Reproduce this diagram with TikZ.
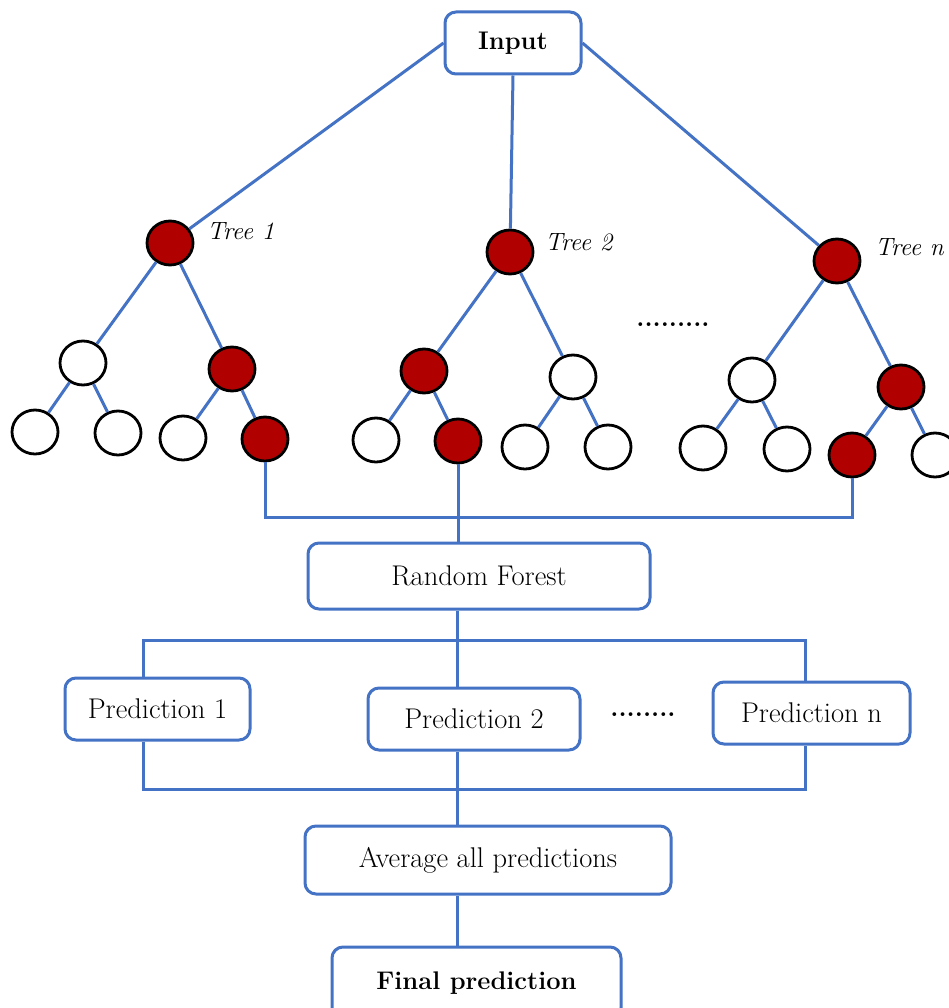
\documentclass[tikz,border=0pt]{standalone}
\usepackage{fontspec}
\setmainfont{Latin Modern Roman}
\usetikzlibrary{shapes.geometric}
\definecolor{lblue}{RGB}{68,114,196}
\definecolor{dred}{RGB}{176,0,0}
\begin{document}
\begin{tikzpicture}[x=1pt,y=-1pt,
 conn/.style={draw=lblue,line width=3pt},
 box/.style={draw=lblue,line width=3pt,rounded corners=11pt,fill=white,inner sep=0pt,font=\fontsize{28.5}{32}\selectfont},
 boldbox/.style={box,font=\bfseries\fontsize{25.5}{30}\selectfont},
 nd/.style={ellipse,draw=black,line width=2.8pt,minimum width=46pt,minimum height=44pt,inner sep=0pt},
 rn/.style={nd,fill=dred},
 wn/.style={nd,fill=white},
 tl/.style={anchor=west,font=\itshape\fontsize{25}{30}\selectfont,inner sep=0pt},
 dots/.style={font=\bfseries\fontsize{26}{28}\selectfont,inner sep=0pt}]
\useasboundingbox (0,0) rectangle (949,1008);
\clip (0,0) rectangle (949,1008);

% boxes
\node[boldbox,minimum width=136pt,minimum height=62pt] (input) at (513,43) {Input};
\node[box,minimum width=342pt,minimum height=66pt] (rf) at (479,576) {Random Forest};
\node[box,minimum width=185pt,minimum height=62pt] (p1) at (157.5,709) {Prediction 1};
\node[box,minimum width=212pt,minimum height=62pt] (p2) at (474,719) {Prediction 2};
\node[box,minimum width=197pt,minimum height=62pt] (pn) at (811.5,713) {Prediction n};
\node[box,minimum width=366pt,minimum height=68pt] (avg) at (488,860) {Average all predictions};
\node[boldbox,minimum width=289pt,minimum height=72pt] (fin) at (476.5,983) {Final prediction};

% tree 1
\node[rn] (t1r) at (170,243) {};
\node[wn] (t1a) at (83,363) {};
\node[rn] (t1b) at (232,369) {};
\node[wn] (t1a1) at (35,432) {};
\node[wn] (t1a2) at (118,433) {};
\node[wn] (t1b1) at (183,438) {};
\node[rn] (t1b2) at (265,439) {};
\node[tl] (lt1) at (207,231) {Tree 1};
% tree 2
\node[rn] (t2r) at (510,252) {};
\node[rn] (t2a) at (424,371) {};
\node[wn] (t2b) at (573,377) {};
\node[wn] (t2a1) at (376,440) {};
\node[rn] (t2a2) at (458,441) {};
\node[wn] (t2b1) at (525,447) {};
\node[wn] (t2b2) at (608,447) {};
\node[tl] (lt2) at (545,242) {Tree 2};
% tree n
\node[rn] (tnr) at (837,261) {};
\node[wn] (tna) at (752,380) {};
\node[rn] (tnb) at (901,387) {};
\node[wn] (tna1) at (703,448) {};
\node[wn] (tna2) at (787,449) {};
\node[rn] (tnb1) at (852,455) {};
\node[wn] (tnb2) at (935,455) {};
\node[tl] (ltn) at (875,247) {Tree n};

\node[dots] (d1) at (673,325) {.........};
\node[dots] (d2) at (643,715) {........};

% connectors: input to trees
\draw[conn] (input.west) -- (t1r);
\draw[conn] (input.south) -- (t2r);
\draw[conn] (input.east) -- (tnr);
% tree edges
\foreach \p/\c in {t1r/t1a,t1r/t1b,t1a/t1a1,t1a/t1a2,t1b/t1b1,t1b/t1b2,
                   t2r/t2a,t2r/t2b,t2a/t2a1,t2a/t2a2,t2b/t2b1,t2b/t2b2,
                   tnr/tna,tnr/tnb,tna/tna1,tna/tna2,tnb/tnb1,tnb/tnb2}
  \draw[conn] (\p) -- (\c);

% collect to random forest
\coordinate (cy) at (0,517);
\draw[conn] (t1b2.south) -- (t1b2.south |- cy) -- (tnb1.south |- cy) -- (tnb1.south);
\draw[conn] (t2a2.south) -- (t2a2.south |- rf.north);

% random forest to predictions
\coordinate (hy) at (0,640);
\coordinate (xl) at (143,0);
\coordinate (xm) at (457,0);
\coordinate (xr) at (805,0);
\draw[conn] (xm |- rf.south) -- (xm |- hy);
\draw[conn] (xl |- p1.north) -- (xl |- hy) -- (xr |- hy) -- (xr |- pn.north);
\draw[conn] (xm |- hy) -- (xm |- p2.north);

% predictions to average
\coordinate (by) at (0,789);
\draw[conn] (xl |- p1.south) -- (xl |- by) -- (xr |- by) -- (xr |- pn.south);
\draw[conn] (xm |- p2.south) -- (xm |- avg.north);
\draw[conn] (xm |- avg.south) -- (xm |- fin.north);
\end{tikzpicture}
\end{document}
